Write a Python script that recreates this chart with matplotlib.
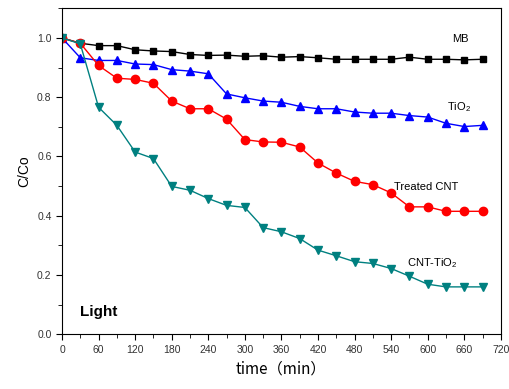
import matplotlib.pyplot as plt
from matplotlib.ticker import MultipleLocator

plt.rcParams['font.family'] = ['Liberation Sans', 'DejaVu Sans']
plt.rcParams['mathtext.fontset'] = 'custom'
plt.rcParams['mathtext.rm'] = 'Liberation Sans'

# time in minutes
time = [0, 30, 60, 90, 120, 150, 180, 210, 240, 270, 300, 330,
        360, 390, 420, 450, 480, 510, 540, 570, 600, 630, 660, 690]

mb = [1.0, 0.982, 0.974, 0.974, 0.960, 0.956, 0.954, 0.944, 0.941, 0.942, 0.938, 0.940,
      0.935, 0.937, 0.933, 0.928, 0.928, 0.928, 0.928, 0.935, 0.928, 0.928, 0.926, 0.928]
tio2 = [1.0, 0.933, 0.924, 0.924, 0.912, 0.910, 0.893, 0.888, 0.879, 0.811, 0.798, 0.787,
        0.783, 0.769, 0.761, 0.761, 0.750, 0.746, 0.746, 0.738, 0.733, 0.712, 0.701, 0.705]
treated_cnt = [1.0, 0.982, 0.907, 0.864, 0.860, 0.847, 0.787, 0.761, 0.761, 0.726, 0.657, 0.649,
               0.648, 0.632, 0.578, 0.544, 0.516, 0.505, 0.477, 0.430, 0.430, 0.415, 0.415, 0.415]
cnt_tio2 = [1.0, 0.980, 0.766, 0.705, 0.615, 0.593, 0.499, 0.486, 0.458, 0.435, 0.428, 0.360,
            0.346, 0.323, 0.284, 0.265, 0.245, 0.239, 0.222, 0.196, 0.169, 0.160, 0.160, 0.160]

fig = plt.figure(figsize=(5.1, 3.89), dpi=100)
ax = fig.add_axes([0.1216, 0.1406, 0.8604, 0.8381])

ax.plot(time, mb, color='black', marker='s', markersize=5, linewidth=1)
ax.plot(time, tio2, color='#0000ff', marker='^', markersize=6, linewidth=1)
ax.plot(time, treated_cnt, color='#ff0000', marker='o', markersize=6, linewidth=1)
ax.plot(time, cnt_tio2, color='#008080', marker='v', markersize=6, linewidth=1)

ax.text(653, 0.997, 'MB', fontsize=8, ha='center', va='center')
ax.text(651, 0.765, r'TiO$_\mathrm{2}$', fontsize=8, ha='center', va='center')
ax.text(597, 0.497, 'Treated CNT', fontsize=8, ha='center', va='center')
ax.text(608, 0.24, r'CNT-TiO$_\mathrm{2}$', fontsize=8, ha='center', va='center')
ax.text(29, 0.076, 'Light', fontsize=11, fontweight='bold', va='center')

ax.set_xlim(0, 720)
ax.set_ylim(0, 1.1)
ax.xaxis.set_major_locator(MultipleLocator(60))
ax.xaxis.set_minor_locator(MultipleLocator(30))
ax.yaxis.set_major_locator(MultipleLocator(0.2))
ax.yaxis.set_minor_locator(MultipleLocator(0.1))
ax.yaxis.set_major_formatter(plt.FormatStrFormatter('%.1f'))
ax.tick_params(which='both', direction='out', labelsize=7.5, labelcolor='#333333')
ax.tick_params(which='major', length=4)
ax.tick_params(which='minor', length=3)

ax.set_xlabel('time（min）', fontsize=11, family=['Noto Sans CJK SC', 'DejaVu Sans'])
ax.set_ylabel('C/Co', fontsize=10)

plt.savefig('out.png')
